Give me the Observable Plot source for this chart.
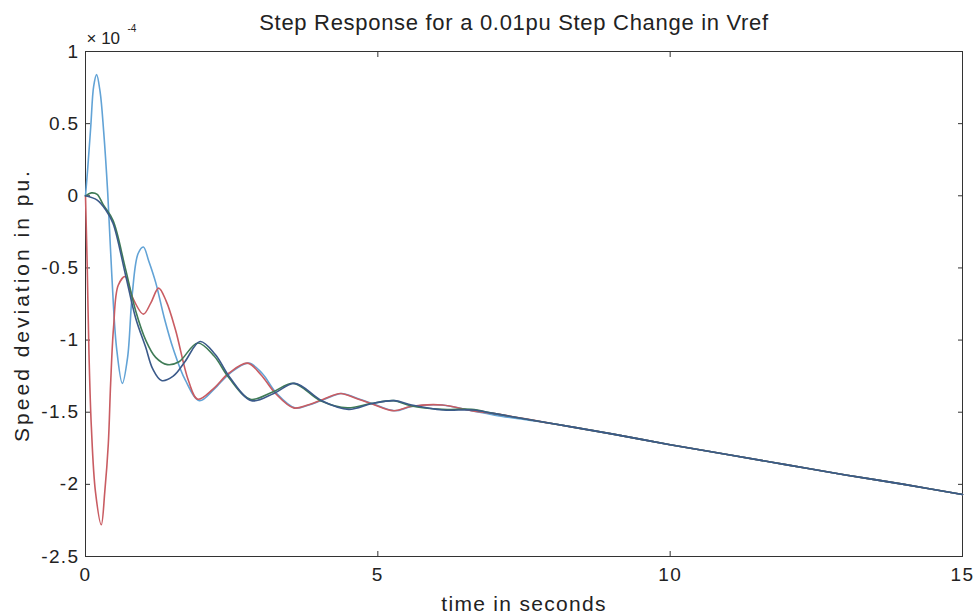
<!DOCTYPE html>
<html>
<head>
<meta charset="utf-8">
<script src="https://cdn.jsdelivr.net/npm/d3@7"></script>
<script src="https://cdn.jsdelivr.net/npm/@observablehq/plot@0.6"></script>
<style>
  html, body { margin: 0; padding: 0; background: #fff; }
  #chart svg { display: block; }
</style>
</head>
<body>
<div id="chart"></div>
<script>
// Values in units of 1e-4 pu
const tailT = [8, 9, 10, 11, 12, 13, 14, 15];
const tailV = [-1.58, -1.65, -1.725, -1.795, -1.865, -1.935, -2.0, -2.07];

const lightBlueT = [0, 0.04, 0.09, 0.14, 0.19, 0.25, 0.31, 0.38, 0.45, 0.53, 0.63, 0.72, 0.8, 0.9, 0.99, 1.08, 1.2, 1.35, 1.5, 1.71, 1.95, 2.2, 2.47, 2.79, 3.02, 3.27, 3.58, 3.82, 4.09, 4.38, 4.62, 4.9, 5.29, 5.58, 6.1, 6.6, 7];
const lightBlueV = [0, 0.2, 0.48, 0.76, 0.84, 0.72, 0.45, 0.02, -0.55, -1.05, -1.30, -1.12, -0.68, -0.40, -0.355, -0.45, -0.6, -0.85, -1.06, -1.28, -1.42, -1.34, -1.23, -1.16, -1.23, -1.37, -1.47, -1.45, -1.41, -1.37, -1.40, -1.44, -1.49, -1.46, -1.45, -1.49, -1.52];

const redT = [0, 0.03, 0.06, 0.1, 0.17, 0.27, 0.33, 0.39, 0.43, 0.48, 0.56, 0.68, 0.8, 0.99, 1.12, 1.25, 1.38, 1.54, 1.76, 1.92, 2.18, 2.45, 2.77, 3.0, 3.25, 3.56, 3.8, 4.07, 4.36, 4.6, 4.88, 5.27, 5.56, 6.1, 6.6, 7];
const redV = [0, -0.5, -1.1, -1.6, -2.05, -2.28, -2.05, -1.72, -1.3, -0.91, -0.62, -0.56, -0.7, -0.82, -0.74, -0.64, -0.73, -0.93, -1.28, -1.41, -1.34, -1.23, -1.16, -1.24, -1.37, -1.47, -1.45, -1.41, -1.37, -1.40, -1.44, -1.49, -1.46, -1.45, -1.49, -1.51];

const greenT = [0, 0.1, 0.2, 0.3, 0.47, 0.68, 0.86, 1.03, 1.2, 1.4, 1.6, 1.92, 2.2, 2.45, 2.82, 3.2, 3.56, 4.02, 4.48, 4.88, 5.27, 5.56, 6.1, 6.6, 7];
const greenV = [0, 0.02, 0.01, -0.06, -0.17, -0.5, -0.8, -1.0, -1.12, -1.17, -1.15, -1.02, -1.11, -1.26, -1.41, -1.36, -1.30, -1.42, -1.47, -1.44, -1.42, -1.455, -1.48, -1.48, -1.51];

const darkBlueT = [0, 0.2, 0.35, 0.47, 0.68, 0.86, 1.03, 1.15, 1.3, 1.5, 1.7, 1.96, 2.22, 2.47, 2.84, 3.22, 3.58, 4.04, 4.5, 4.9, 5.29, 5.58, 6.12, 6.62, 7];
const darkBlueV = [0, -0.03, -0.1, -0.19, -0.54, -0.85, -1.05, -1.2, -1.28, -1.25, -1.15, -1.01, -1.10, -1.26, -1.42, -1.37, -1.30, -1.42, -1.48, -1.44, -1.42, -1.45, -1.485, -1.485, -1.51];

const xTicks = [0, 5, 10, 15];
const yTicks = [1, 0.5, 0, -0.5, -1, -1.5, -2, -2.5];

const seriesNames = ["light blue", "red", "green", "dark blue"];
const seriesColors = ["#62a3d6", "#c95c62", "#3f7b56", "#3b5a8a"];

const titleText = "Step Response for a 0.01pu Step Change in Vref";
const xLabelText = "time in seconds";
const yLabelText = "Speed deviation in pu.";

function build(name, T, V) {
  const pts = T.map((t, i) => ({series: name, t, v: V[i]}));
  tailT.forEach((t, i) => pts.push({series: name, t, v: tailV[i]}));
  return pts;
}
const data = [
  ...build(seriesNames[0], lightBlueT, lightBlueV),
  ...build(seriesNames[1], redT, redV),
  ...build(seriesNames[2], greenT, greenV),
  ...build(seriesNames[3], darkBlueT, darkBlueV)
];

const font = "'Liberation Sans', Arial, Helvetica, sans-serif";

const chart = Plot.plot({
  width: 978,
  height: 614,
  marginLeft: 85,
  marginRight: 16,
  marginTop: 51,
  marginBottom: 58,
  style: {fontFamily: font, fontSize: "19px", color: "#222", background: "#fff"},
  x: {domain: [0, 15], ticks: xTicks},
  y: {domain: [-2.5, 1], ticks: yTicks},
  color: {domain: seriesNames, range: seriesColors},
  marks: [
    Plot.frame({stroke: "#333", strokeWidth: 1}),
    Plot.axisX({ticks: xTicks, tickSize: -5, tickPadding: 16, tickFormat: d => String(d), label: null, fontSize: 19, stroke: "#333"}),
    Plot.axisX({anchor: "top", ticks: xTicks, tickSize: -5, tickFormat: () => "", label: null, stroke: "#333"}),
    Plot.axisY({ticks: yTicks, tickSize: -5, tickPadding: 11, tickFormat: d => String(d), label: null, fontSize: 19, stroke: "#333"}),
    Plot.axisY({anchor: "right", ticks: yTicks, tickSize: -5, tickFormat: () => "", label: null, stroke: "#333"}),
    Plot.line(data, {x: "t", y: "v", z: "series", stroke: "series", strokeWidth: 1.6, curve: "catmull-rom"}),
    Plot.text([titleText], {frameAnchor: "top", dx: -10, dy: -37, fontSize: 22, fill: "#222"}),
    Plot.text([xLabelText], {frameAnchor: "bottom", dy: 54, fontSize: 21, fill: "#222"}),
    Plot.text([yLabelText], {frameAnchor: "left", textAnchor: "middle", dx: -63, dy: 1, rotate: -90, fontSize: 21, fill: "#222"}),
    Plot.text(["× 10"], {frameAnchor: "top-left", dx: 1, dy: -20, fontSize: 17, textAnchor: "start", fill: "#222"}),
    Plot.text(["-4"], {frameAnchor: "top-left", dx: 42, dy: -27, fontSize: 10, textAnchor: "start", fill: "#222"})
  ]
});
// letter spacing to mimic the wide screen font of the original
const spacing = new Map([[titleText, 0.7], [xLabelText, 1.3], [yLabelText, 3]]);
d3.select(chart).selectAll("text").each(function() {
  const t = this.textContent;
  if (spacing.has(t)) this.style.letterSpacing = spacing.get(t) + "px";
});
d3.select(chart).selectAll('g[aria-label="y-axis tick label"] text, g[aria-label="x-axis tick label"] text')
  .style("letter-spacing", "1.4px");
document.getElementById("chart").append(chart);
</script>
</body>
</html>
